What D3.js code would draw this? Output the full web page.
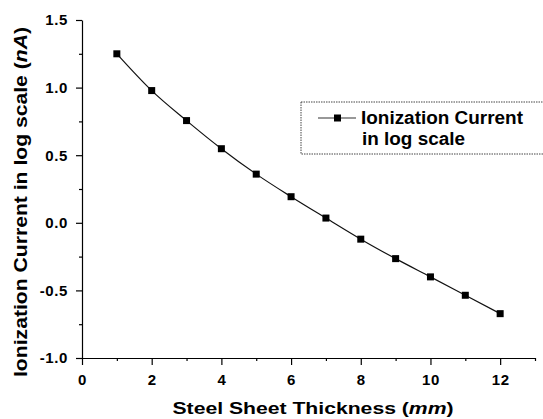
<!DOCTYPE html>
<meta charset="utf-8">
<body style="margin:0; background:white;">
<div id="chart"></div>
<script src="https://d3js.org/d3.v7.min.js"></script>
<script>
// values
var thickness = [1, 2, 3, 4, 5, 6, 7, 8, 9, 10, 11, 12];
var logCurrent = [1.25, 0.978, 0.756, 0.548, 0.36, 0.193, 0.035, -0.121, -0.265, -0.40, -0.536, -0.672];
var xTicks = [0, 2, 4, 6, 8, 10, 12];
var xMinor = [1, 3, 5, 7, 9, 11, 13];
var yTicks = [-1.0, -0.5, 0.0, 0.5, 1.0, 1.5];
var yTickLabels = ["-1.0", "-0.5", "0.0", "0.5", "1.0", "1.5"];
var yMinor = [-0.75, -0.25, 0.25, 0.75, 1.25];

var width = 543, height = 419;
var font = "'Liberation Sans', Arial, sans-serif";

var svg = d3.select("#chart").append("svg")
    .attr("width", width)
    .attr("height", height)
    .style("font-family", font);

var x = d3.scaleLinear().domain([0, 13]).range([82, 535]);
var y = d3.scaleLinear().domain([-1, 1.5]).range([358, 20]);

// minor ticks
svg.append("g")
    .attr("transform", "translate(0,358)")
    .call(d3.axisBottom(x).tickValues(xMinor).tickSize(3).tickSizeOuter(0).tickFormat(""))
    .call(g => g.select(".domain").remove());
svg.append("g")
    .attr("transform", "translate(82,0)")
    .call(d3.axisLeft(y).tickValues(yMinor).tickSize(3).tickSizeOuter(0).tickFormat(""))
    .call(g => g.select(".domain").remove());

// major axes
var xAxis = svg.append("g")
    .attr("transform", "translate(0,358)")
    .call(d3.axisBottom(x).tickValues(xTicks).tickSize(7).tickPadding(9).tickSizeOuter(0));
var yAxis = svg.append("g")
    .attr("transform", "translate(82,0)")
    .call(d3.axisLeft(y).tickValues(yTicks).tickSize(6).tickPadding(8).tickSizeOuter(0)
        .tickFormat((d, i) => yTickLabels[i]));

svg.selectAll(".tick text")
    .style("font-family", font)
    .style("font-size", "15px")
    .style("font-weight", "bold")
    .style("letter-spacing", "0.6px")
    .attr("fill", "#000");
svg.selectAll(".domain, .tick line").attr("stroke", "#000").attr("stroke-width", 1.2);

// curve + markers
var line = d3.line()
    .x((d, i) => x(thickness[i]))
    .y(d => y(d))
    .curve(d3.curveMonotoneX);

svg.append("path")
    .datum(logCurrent)
    .attr("d", line)
    .attr("fill", "none")
    .attr("stroke", "#111")
    .attr("stroke-width", 1.2);

svg.selectAll(".pt")
    .data(logCurrent)
    .enter().append("rect")
    .attr("class", "pt")
    .attr("x", (d, i) => x(thickness[i]) - 3.5)
    .attr("y", d => y(d) - 3.5)
    .attr("width", 7)
    .attr("height", 7)
    .attr("fill", "#000");

// axis titles
svg.append("text")
    .attr("x", 313)
    .attr("y", 414)
    .attr("text-anchor", "middle")
    .attr("textLength", 281)
    .attr("lengthAdjust", "spacingAndGlyphs")
    .style("font-size", "16px")
    .style("font-weight", "bold")
    .html("Steel Sheet Thickness (<tspan font-style='italic'>mm</tspan>)");

svg.append("text")
    .attr("transform", "translate(27,202) rotate(-90)")
    .attr("text-anchor", "middle")
    .attr("textLength", 350)
    .attr("lengthAdjust", "spacingAndGlyphs")
    .style("font-size", "19px")
    .style("font-weight", "bold")
    .html("Ionization Current in log scale (<tspan font-style='italic'>nA</tspan>)");

// legend
var legend = svg.append("g");
legend.append("rect")
    .attr("x", 301).attr("y", 102)
    .attr("width", 260).attr("height", 52)
    .attr("fill", "white")
    .attr("stroke", "#444")
    .attr("stroke-width", 1)
    .attr("stroke-dasharray", "1.5,1");
legend.append("line")
    .attr("x1", 318).attr("x2", 356)
    .attr("y1", 118).attr("y2", 118)
    .attr("stroke", "#333").attr("stroke-width", 1.2);
legend.append("rect")
    .attr("x", 334).attr("y", 114.5)
    .attr("width", 7).attr("height", 7)
    .attr("fill", "#000");
legend.append("text")
    .attr("x", 361).attr("y", 124)
    .attr("textLength", 162)
    .attr("lengthAdjust", "spacingAndGlyphs")
    .style("font-size", "18px")
    .style("font-weight", "bold")
    .text("Ionization Current");
legend.append("text")
    .attr("x", 362).attr("y", 145)
    .attr("textLength", 103)
    .attr("lengthAdjust", "spacingAndGlyphs")
    .style("font-size", "18px")
    .style("font-weight", "bold")
    .text("in log scale");
</script>
</body>
